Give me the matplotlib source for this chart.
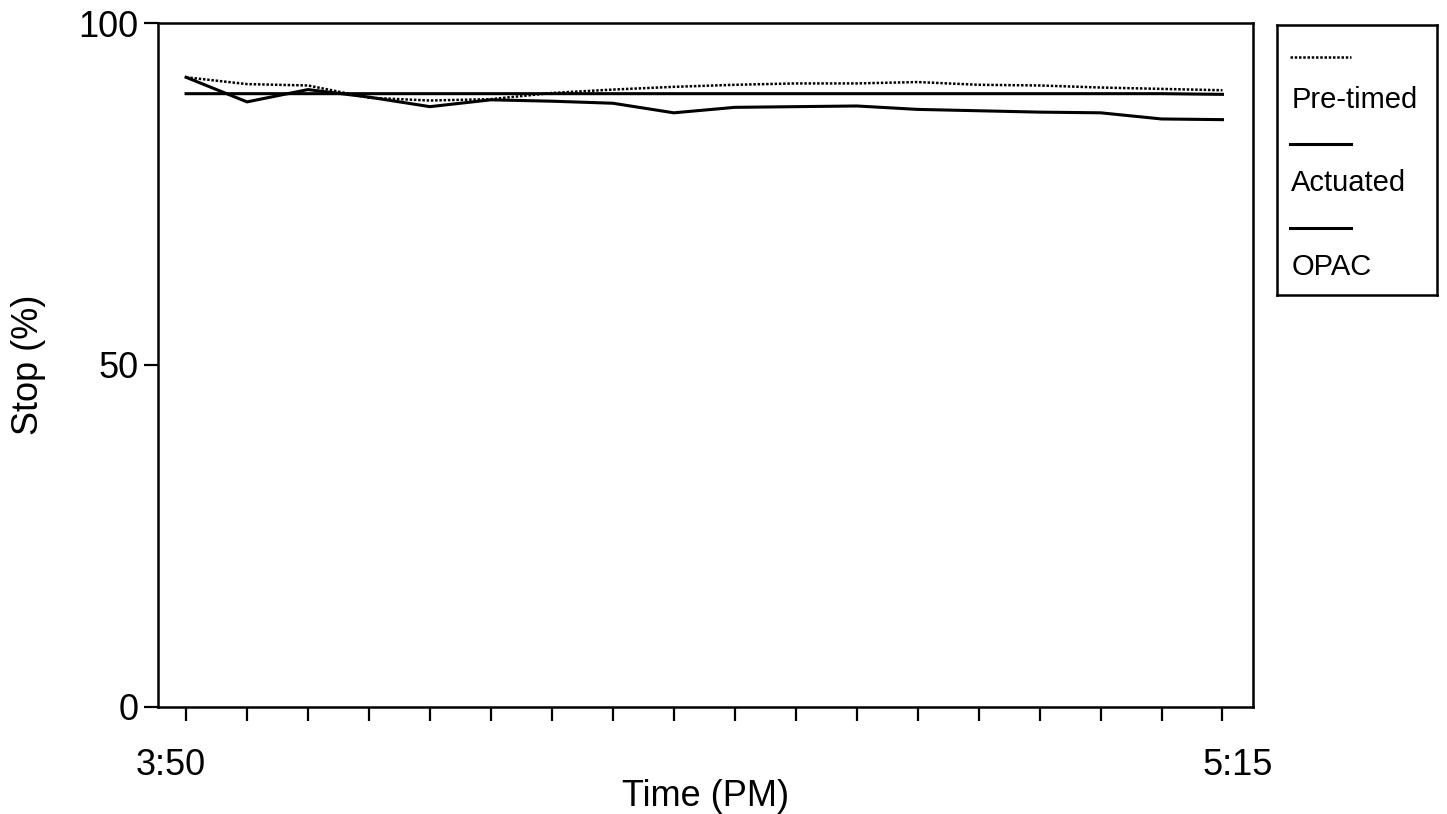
import numpy as np
import matplotlib
matplotlib.use('Agg')
import matplotlib.pyplot as plt
import matplotlib.transforms as mtransforms

plt.rcParams['font.family'] = ['Liberation Sans', 'DejaVu Sans']

# minutes after 3:50 PM, one reading every 5 minutes
minutes = [0, 5, 10, 15, 20, 25, 30, 35, 40, 45, 50, 55, 60, 65, 70, 75, 80, 85]
pretimed = [92.1, 91.1, 90.9, 89.1, 88.7, 88.9, 89.8, 90.3, 90.7, 91.0,
            91.2, 91.2, 91.4, 91.0, 90.9, 90.6, 90.4, 90.2]
actuated = [89.7, 89.7, 89.7, 89.7, 89.7, 89.7, 89.7, 89.7, 89.7, 89.7,
            89.7, 89.7, 89.7, 89.7, 89.7, 89.7, 89.7, 89.6]
opac = [92.1, 88.5, 90.3, 89.2, 87.8, 88.8, 88.6, 88.3, 86.9, 87.7,
        87.8, 87.9, 87.4, 87.2, 87.0, 86.9, 86.0, 85.9]
series_names = ['Pre-timed', 'Actuated', 'OPAC']
end_labels = ['3:50', '5:15']

fig = plt.figure(figsize=(14.47, 8.14), dpi=100)
ax = fig.add_axes([0.1092, 0.1318, 0.7567, 0.8396])

ax.plot(minutes, pretimed, color='black', lw=1.8, ls=(0, (1, 0.7)))
ax.plot(minutes, actuated, color='black', lw=2.2)
ax.plot(minutes, opac, color='black', lw=2.2)

ax.set_xlim(-2.3, 87.5)
ax.set_ylim(0, 100)
ax.set_yticks([0, 50, 100])
ax.set_xticks(minutes)
ax.set_xticklabels([end_labels[0]] + [''] * (len(minutes) - 2) + [end_labels[1]])
ax.tick_params(axis='both', direction='out', length=10, width=1.6, labelsize=26, pad=4)
ax.tick_params(axis='x', pad=20)
for s in ax.spines.values():
    s.set_linewidth(1.8)

# nudge the two end labels like the original
labs = ax.get_xticklabels()
labs[0].set_transform(labs[0].get_transform() + mtransforms.ScaledTranslation(-0.15, 0, fig.dpi_scale_trans))
labs[-1].set_transform(labs[-1].get_transform() + mtransforms.ScaledTranslation(0.15, 0, fig.dpi_scale_trans))

ax.set_xlabel('Time (PM)', fontsize=26, labelpad=-3)
ax.set_ylabel('Stop (%)', fontsize=26, labelpad=23)

# legend box drawn by hand: sample line above each name
lg = fig.add_axes([0.8825, 0.6376, 0.1106, 0.3317])
lg.set_xlim(0, 1)
lg.set_ylim(0, 1)
lg.set_xticks([])
lg.set_yticks([])
for s in lg.spines.values():
    s.set_linewidth(1.8)
styles = [(0, (1, 0.7)), '-', '-']
line_y = [0.881, 0.559, 0.248]
text_y = [0.722, 0.415, 0.104]
for name, st, ly, ty in zip(series_names, styles, line_y, text_y):
    lg.plot([0.08, 0.46], [ly, ly], color='black', lw=1.8 if st != '-' else 2.2, ls=st)
    lg.text(0.09, ty, name, fontsize=21, va='center', ha='left')

fig.savefig('out.png', dpi=100)
